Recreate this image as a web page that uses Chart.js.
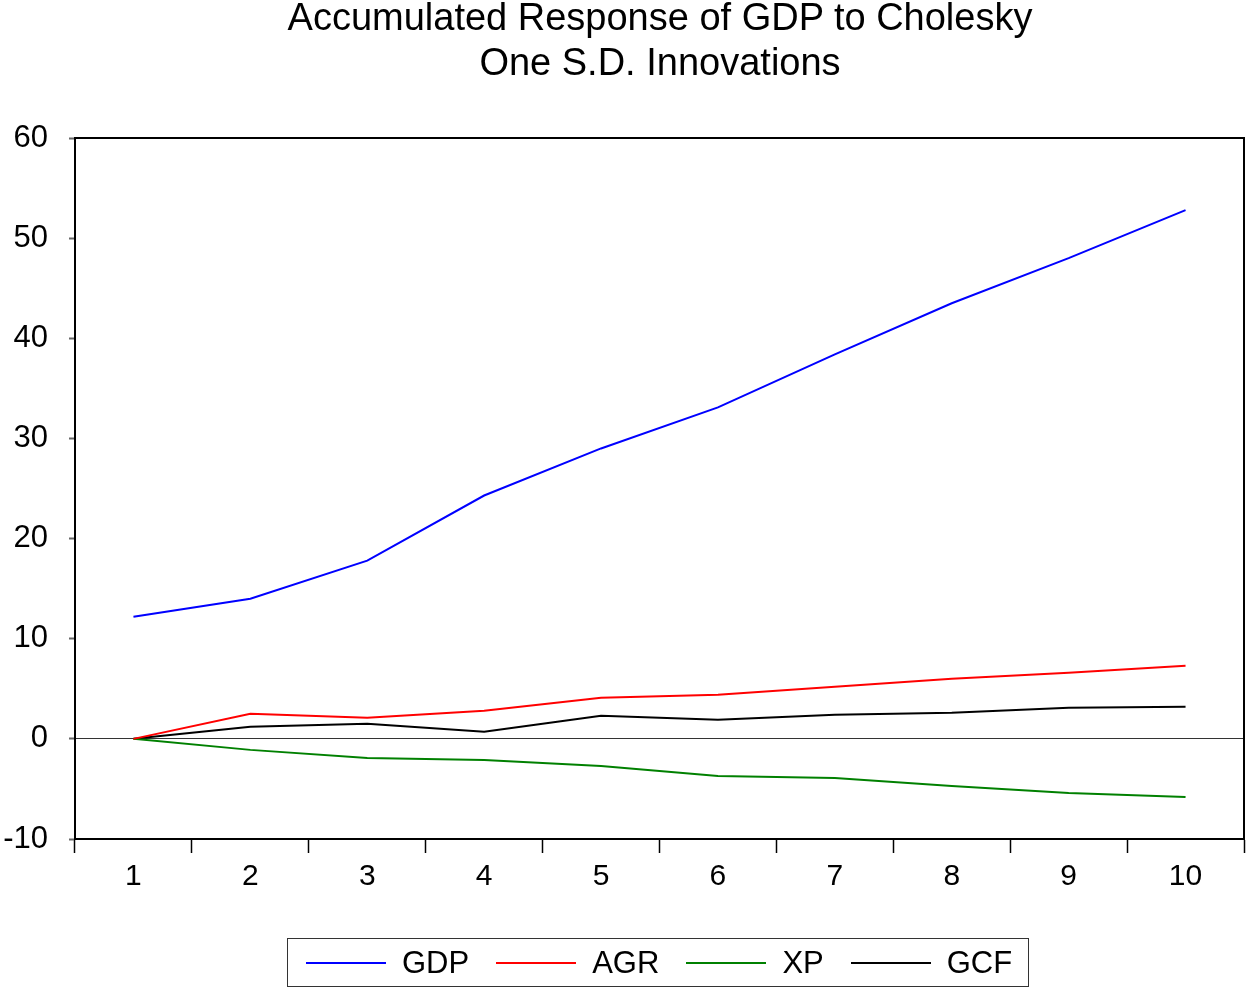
<!DOCTYPE html>
<html>
<head>
<meta charset="utf-8">
<script src="https://cdn.jsdelivr.net/npm/chart.js@4"></script>
<style>
  body { margin: 0; background: #fff; font-family: "Liberation Sans", Arial, sans-serif; }
  #wrap { position: relative; width: 1250px; height: 992px; }
  #title { position: absolute; left: 60px; width: 1200px; top: -5px; text-align: center;
           font-size: 38px; line-height: 45px; color: #000; }
  #legend { position: absolute; left: 287px; top: 938px; width: 742px; height: 49px;
            border: 1.5px solid #333; display: flex; align-items: center; padding-left: 18px; box-sizing: border-box; }
  .item { display: flex; align-items: center; margin-right: 27px; font-size: 31px; }
  .swatch { width: 80px; height: 2px; margin-right: 16px; }
</style>
</head>
<body>
<div id="wrap">
  <canvas id="irfChart" width="1250" height="992"></canvas>
  <div id="title">Accumulated Response of GDP to Cholesky<br>One S.D. Innovations</div>
  <div id="legend"></div>
</div>
<script>
// periods and accumulated responses
const periods = ['1', '2', '3', '4', '5', '6', '7', '8', '9', '10'];
const gdp = [12.2, 14.0, 17.8, 24.3, 29.0, 33.1, 38.4, 43.5, 48.0, 52.8];
const agr = [0.0, 2.5, 2.1, 2.8, 4.1, 4.4, 5.2, 6.0, 6.6, 7.3];
const xp  = [0.0, -1.1, -1.9, -2.1, -2.7, -3.7, -3.9, -4.7, -5.4, -5.8];
const gcf = [0.0, 1.2, 1.5, 0.7, 2.3, 1.9, 2.4, 2.6, 3.1, 3.2];
const yTicks = [-10, 0, 10, 20, 30, 40, 50, 60];

const series = [
    { label: 'GDP', data: gdp, color: '#0000ff' },
    { label: 'AGR', data: agr, color: '#ff0000' },
    { label: 'XP', data: xp, color: '#008000' },
    { label: 'GCF', data: gcf, color: '#000000' }
];

// legend box under the chart
const legendEl = document.getElementById('legend');
series.forEach(s => {
    legendEl.innerHTML += `<div class="item"><div class="swatch" style="background:${s.color}"></div>${s.label}</div>`;
});

// frame around the plot area
const frame = {
    id: 'frame',
    afterDraw(chart) {
        const { ctx, chartArea: a } = chart;
        ctx.save();
        ctx.strokeStyle = '#000';
        ctx.lineWidth = 2;
        ctx.strokeRect(a.left, a.top, a.right - a.left, a.bottom - a.top);
        ctx.restore();
    }
};

const ctx = document.getElementById('irfChart').getContext('2d');
new Chart(ctx, {
    type: 'line',
    data: {
        labels: periods,
        datasets: series.map(s => ({
            label: s.label,
            data: s.data,
            borderColor: s.color,
            borderWidth: 2,
            pointRadius: 0,
            tension: 0,
            fill: false
        }))
    },
    options: {
        responsive: false,
        animation: false,
        layout: { padding: { left: 0, top: 138, right: 6, bottom: 93 } },
        plugins: { legend: { display: false }, title: { display: false }, tooltip: { enabled: false } },
        scales: {
            x: {
                offset: true,
                afterFit: (scale) => { scale.height = 60; },
                grid: { offset: true, drawOnChartArea: false, tickLength: 14, tickColor: '#000', tickWidth: 1.5 },
                border: { color: '#000', width: 2 },
                ticks: { color: '#000', font: { family: 'Liberation Sans', size: 30 }, padding: 6, maxRotation: 0 }
            },
            y: {
                min: -10,
                max: 60,
                afterFit: (scale) => { scale.width = 75; },
                afterBuildTicks: (scale) => { scale.ticks = yTicks.map(v => ({ value: v })); },
                grid: {
                    color: (c) => c.tick && c.tick.value === 0 ? '#333' : 'rgba(0,0,0,0)',
                    lineWidth: 1,
                    tickLength: 6,
                    tickColor: '#666',
                    tickWidth: 2
                },
                border: { color: '#000', width: 2 },
                ticks: { color: '#000', font: { family: 'Liberation Sans', size: 31 }, padding: 21 }
            }
        }
    },
    plugins: [frame]
});
</script>
</body>
</html>
